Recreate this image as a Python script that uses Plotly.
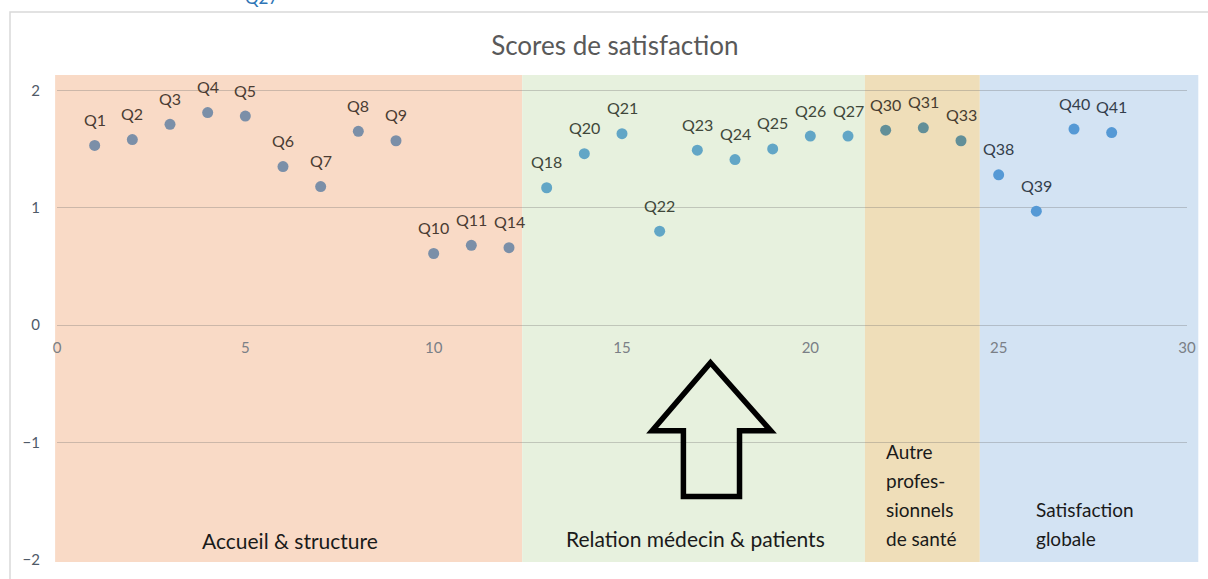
import plotly.graph_objects as go

# ---- data -------------------------------------------------------------
questions = ["Q1", "Q2", "Q3", "Q4", "Q5", "Q6", "Q7", "Q8", "Q9", "Q10", "Q11", "Q14",
             "Q18", "Q20", "Q21", "Q22", "Q23", "Q24", "Q25", "Q26", "Q27",
             "Q30", "Q31", "Q33",
             "Q38", "Q39", "Q40", "Q41"]
positions = list(range(1, 29))
scores = [1.53, 1.58, 1.71, 1.81, 1.78, 1.35, 1.18, 1.65, 1.57, 0.61, 0.68, 0.66,
          1.17, 1.46, 1.63, 0.80, 1.49, 1.41, 1.50, 1.61, 1.61,
          1.66, 1.68, 1.57,
          1.28, 0.97, 1.67, 1.64]
sections = (["accueil"] * 12 + ["relation"] * 9 + ["autre"] * 3 + ["globale"] * 4)

section_order = ["accueil", "relation", "autre", "globale"]
section_edges = [-0.05, 12.35, 21.45, 24.5, 30.3]
section_titles = {
    "accueil": ["Accueil & structure"],
    "relation": ["Relation médecin & patients"],
    "autre": ["Autre", "profes-", "sionnels", "de santé"],
    "globale": ["Satisfaction", "globale"],
}

x_ticks = [0, 5, 10, 15, 20, 25, 30]
y_ticks = [-2, -1, 0, 1, 2]

# ---- styling ----------------------------------------------------------
FONT = "Lato, 'Open Sans', sans-serif"
band_fill = {"accueil": "#f9dac6", "relation": "#e7f1de", "autre": "#efdeb9", "globale": "#d3e3f3"}
dot_color = {"accueil": "#7b8fa8", "relation": "#62a6c6", "autre": "#628f98", "globale": "#5599d5"}
label_color = {"accueil": "#4a3c33", "relation": "#40473a", "autre": "#473d30", "globale": "#333e4b"}
title_anchor = {  # x anchor (data units), first-line y (data units), alignment, font size
    "accueil": (6.19, -1.83, "center", 21),
    "relation": (16.94, -1.82, "center", 21),
    "autre": (21.95, -1.08, "left", 19),
    "globale": (25.93, -1.57, "left", 19),
}
LINE_STEP = 29  # px between stacked lines

X_MIN, X_MAX = 0, 30
Y_MIN, Y_MAX = -2, 2.13
W, H = 1208, 579
M_L, M_R, M_T, M_B = 57, 21, 75, 19


def px(x):
    return (x - X_MIN) / (X_MAX - X_MIN)


def py(y):
    return (y - Y_MIN) / (Y_MAX - Y_MIN)


fig = go.Figure()

for sec in section_order:
    idx = [i for i, s in enumerate(sections) if s == sec]
    fig.add_trace(go.Scatter(
        x=[positions[i] for i in idx],
        y=[scores[i] for i in idx],
        mode="markers",
        marker=dict(size=11, color=dot_color[sec]),
        showlegend=False,
        hoverinfo="text",
        text=[questions[i] for i in idx],
    ))

# point labels above each marker
annotations = []
for q, x, y, s in zip(questions, positions, scores, sections):
    annotations.append(dict(
        x=x, y=y, xref="x", yref="y", text=q, showarrow=False,
        yshift=26, font=dict(family=FONT, size=16, color=label_color[s]),
    ))

# section names inside the bands
for sec in section_order:
    ax, ay, align, fsize = title_anchor[sec]
    for k, line in enumerate(section_titles[sec]):
        annotations.append(dict(
            x=ax, y=ay, xref="x", yref="y", text=line, showarrow=False,
            xanchor=align, yanchor="middle", yshift=-LINE_STEP * k,
            font=dict(family=FONT, size=fsize, color="#1a1a1a"),
        ))

# partially visible caption above the frame
annotations.append(dict(
    x=0.1814, y=1.1608, xref="paper", yref="paper", text="Q27", showarrow=False,
    xanchor="center", yanchor="middle", font=dict(family=FONT, size=17, color="#2e75b6"),
))

shapes = []
# coloured section bands
for k, sec in enumerate(section_order):
    shapes.append(dict(
        type="rect", xref="paper", yref="paper",
        x0=px(section_edges[k]), x1=px(section_edges[k + 1]),
        y0=py(Y_MIN) - 0.004, y1=py(Y_MAX),
        fillcolor=band_fill[sec], line=dict(width=0), layer="below",
    ))

# hollow arrow pointing up (data units)
arrow_pts = [(17.35, -0.32), (18.95, -0.90), (18.12, -0.90), (18.12, -1.46),
             (16.63, -1.46), (16.63, -0.90), (15.80, -0.90)]
path = "M " + " L ".join(f"{a},{b}" for a, b in arrow_pts) + " Z"
shapes.append(dict(type="path", xref="x", yref="y", path=path,
                   line=dict(color="black", width=5.5), fillcolor="rgba(0,0,0,0)",
                   layer="above"))

# chart frame
shapes.append(dict(type="rect", xref="paper", yref="paper",
                   x0=(10 - M_L) / (W - M_L - M_R), x1=1.04,
                   y0=-0.06, y1=(H - M_B - 12) / (H - M_T - M_B),
                   line=dict(color="#d9d9d9", width=1.5), fillcolor="rgba(0,0,0,0)",
                   layer="below"))

fig.update_layout(
    width=W, height=H,
    margin=dict(l=M_L, r=M_R, t=M_T, b=M_B),
    paper_bgcolor="white",
    plot_bgcolor="rgba(0,0,0,0)",
    title=dict(text="Scores de satisfaction", x=px(14.81), xref="paper",
               y=1 - 46 / H, yref="container", xanchor="center", yanchor="middle",
               font=dict(family=FONT, size=26, color="#595959")),
    xaxis=dict(range=[X_MIN, X_MAX], tickvals=x_ticks, showgrid=False, zeroline=False,
               showline=False, anchor="free", position=py(0), ticklabelstandoff=12,
               tickfont=dict(family=FONT, size=15, color="#7a7f86")),
    yaxis=dict(range=[Y_MIN, Y_MAX], tickvals=y_ticks, showgrid=True,
               gridcolor="rgba(110,110,110,0.32)", gridwidth=1, zeroline=False,
               showline=False, ticklabelstandoff=16,
               tickfont=dict(family=FONT, size=15, color="#4f5a68")),
    shapes=shapes,
    annotations=annotations,
    font=dict(family=FONT),
)

fig.write_html("out.html")
